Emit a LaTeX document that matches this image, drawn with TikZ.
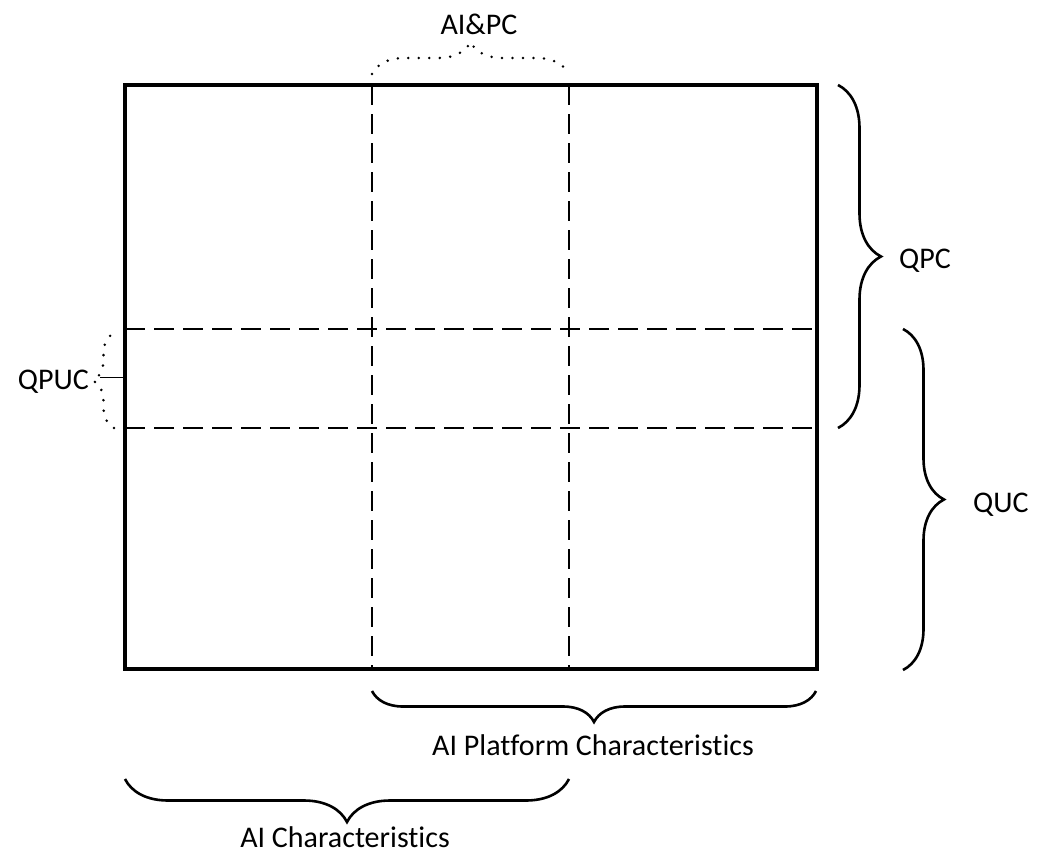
\documentclass[tikz,border=0pt]{standalone}
\usepackage{fontspec}
\setmainfont{Carlito}[Ligatures=NoCommon]
\usetikzlibrary{decorations.pathreplacing}
\begin{document}
\begin{tikzpicture}[x=1pt,y=-1pt,
  lbl/.style={font=\fontsize{30}{35}\selectfont, inner sep=0pt},
  grid/.style={line width=1.5pt, dash pattern=on 20pt off 9pt},
  solidbrace/.style={line width=2.6pt, decorate, decoration={brace, amplitude=#1}},
  dotbrace/.style={line width=2.8pt, line cap=round, dash pattern=on 0pt off 10.5pt, decorate, decoration={brace, amplitude=#1}}]
\useasboundingbox (0,0) rectangle (1045,857);
% corners
\coordinate (tl) at (125,85);
\coordinate (br) at (817,669);
% grid lines
\coordinate (v1t) at (372,85); \coordinate (v1b) at (372,669);
\coordinate (v2t) at (569,85); \coordinate (v2b) at (569,669);
\coordinate (h1l) at (125,329); \coordinate (h1r) at (817,329);
\coordinate (h2l) at (125,428); \coordinate (h2r) at (817,428);
\draw[grid] (v1t) -- (v1b);
\draw[grid] (v2t) -- (v2b);
\draw[grid] (h1l) -- (h1r);
\draw[grid] (h2l) -- (h2r);
\draw[line width=4.5pt] (tl) rectangle (br);
% AI&PC dotted brace
\coordinate (ap1) at (372,74); \coordinate (ap2) at (569,74);
\draw[dotbrace=32pt] (ap1) -- (ap2);
\node[lbl, anchor=base] (aipc) at (479,34) {AI\&PC};
% QPC brace
\coordinate (qpc1) at (838,85); \coordinate (qpc2) at (838,428);
\draw[solidbrace=43pt] (qpc1) -- (qpc2);
\node[lbl, anchor=base west] (qpc) at (899,268) {QPC};
% QUC brace
\coordinate (quc1) at (903,329); \coordinate (quc2) at (903,670);
\draw[solidbrace=41pt] (quc1) -- (quc2);
\node[lbl, anchor=base west] (quc) at (973,512) {QUC};
% QPUC dotted brace
\coordinate (qp1) at (114,428); \coordinate (qp2) at (114,333);
\draw[dotbrace=21pt] (qp1) -- (qp2);
\node[lbl, anchor=base east] (qpuc) at (89,389) {QPUC};
\coordinate (qptick) at (100,377);
\draw[line width=0.8pt] (qptick) -- (tl |- qptick);
% AI Platform brace
\coordinate (pl1) at (816,691); \coordinate (pl2) at (372,691);
\draw[solidbrace=31pt] (pl1) -- (pl2);
\node[lbl, anchor=base] (plat) at (593,755) {AI Platform Characteristics};
% AI Characteristics brace
\coordinate (ac1) at (569,779); \coordinate (ac2) at (125,779);
\draw[solidbrace=43pt] (ac1) -- (ac2);
\node[lbl, anchor=base] (aic) at (345,847) {AI Characteristics};
\end{tikzpicture}
\end{document}
